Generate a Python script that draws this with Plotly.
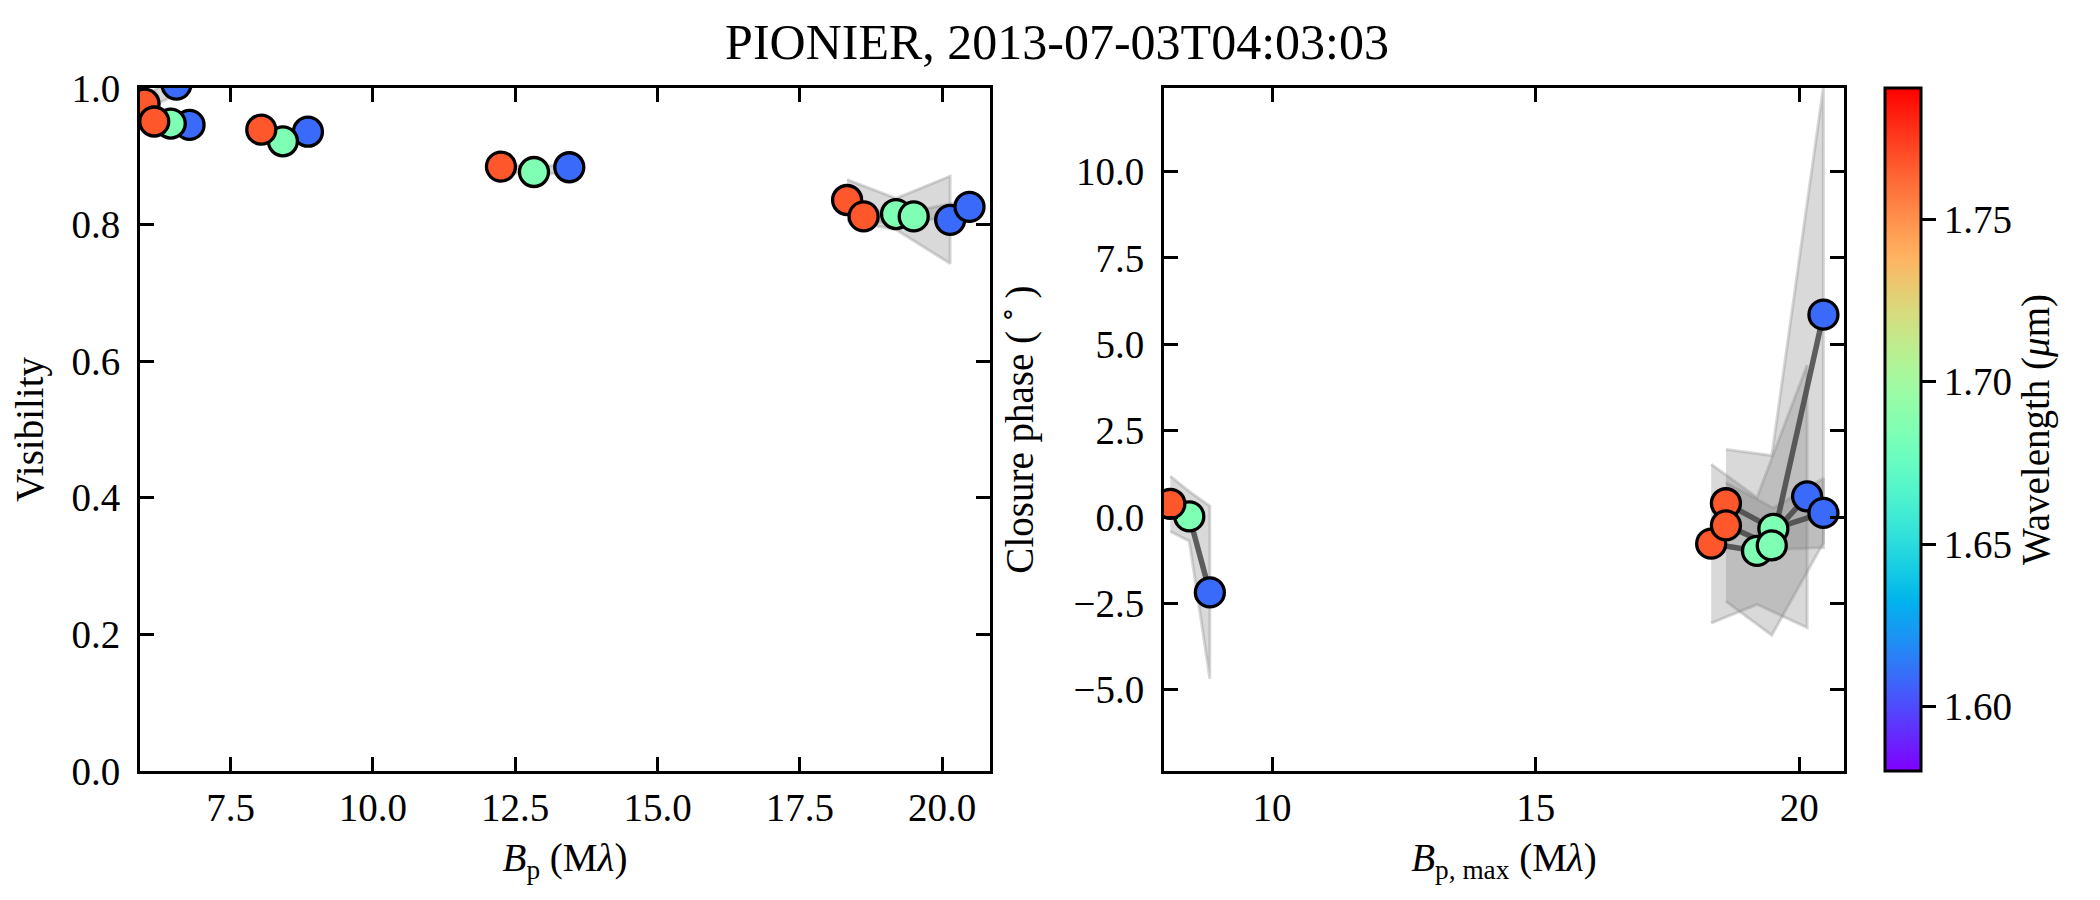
import math
import plotly.graph_objects as go

# ---------------- data ----------------
wavelengths = [1.609, 1.685, 1.767]          # blue, green, red channels (micron)

# Visibility panel: 6 baselines, projected baseline (Mlambda) per channel
# (None = channel not shown for that baseline)
bp_blue  = [6.55, 6.78, 8.86, 13.45, 20.14, 20.48]
bp_green = [None, 6.45, 8.42, 12.83, 19.19, 19.50]
bp_red   = [5.99, 6.16, 8.04, 12.25, 18.33, 18.62]
vis_blue  = [1.005, 0.946, 0.936, 0.884, 0.807, 0.826]
vis_green = [None, 0.948, 0.922, 0.877, 0.8155, 0.812]
vis_red   = [0.977, 0.951, 0.939, 0.885, 0.836, 0.812]
vis_err_blue  = [0.014, 0.006, 0.006, 0.006, 0.064, 0.010]
vis_err_green = [None, 0.006, 0.006, 0.006, 0.023, 0.008]
vis_err_red   = [0.010, 0.006, 0.006, 0.006, 0.030, 0.008]

# Closure phase panel: 4 triangles, longest projected baseline per channel
bpmax_blue  = [8.82, 20.15, 20.46, 20.46]
bpmax_green = [8.43, 19.20, 19.51, 19.48]
bpmax_red   = [8.07, 18.33, 18.61, 18.61]
cp_blue  = [-2.18, 0.60, 0.12, 5.86]
cp_green = [0.02, -0.98, -0.34, -0.82]
cp_red   = [0.385, -0.77, 0.40, -0.24]
cp_err_blue  = [2.50, 3.80, 1.00, 6.60]
cp_err_green = [0.72, 1.55, 0.60, 2.60]
cp_err_red   = [0.80, 2.30, 0.60, 2.20]

wl_min, wl_max = 1.5802, 1.7903
colorbar_ticks = [1.60, 1.65, 1.70, 1.75]

title_text = "PIONIER, 2013-07-03T04:03:03"

# ---------------- style ----------------
FONT = "Liberation Serif"
W, H = 2100, 900


def rainbow(t):
    r = min(1.0, abs(2 * t - 0.5))
    g = min(1.0, max(0.0, math.sin(math.pi * t)))
    b = min(1.0, max(0.0, math.cos(math.pi * t / 2)))
    return "rgb(%d,%d,%d)" % (round(r * 255), round(g * 255), round(b * 255))


colorscale = [[i / 20, rainbow(i / 20)] for i in range(21)]

BAND_FILL = "rgba(128,128,128,0.30)"
BAND_EDGE = "rgba(128,128,128,0.30)"
LINE_COL = "rgba(70,70,70,0.85)"

fig = go.Figure()

channels_vis = [(bp_red, vis_red, vis_err_red),
                (bp_green, vis_green, vis_err_green),
                (bp_blue, vis_blue, vis_err_blue)]
channels_cp = [(bpmax_red, cp_red, cp_err_red),
               (bpmax_green, cp_green, cp_err_green),
               (bpmax_blue, cp_blue, cp_err_blue)]


def add_panel(channels, xa, ya, with_lines):
    n = len(channels[0][0])
    # error bands
    for i in range(n):
        pts = [(c[0][i], c[1][i], c[2][i]) for c in channels if c[0][i] is not None]
        xs = [p[0] for p in pts]
        up = [p[1] + p[2] for p in pts]
        lo = [p[1] - p[2] for p in pts]
        fig.add_trace(go.Scatter(
            x=xs + xs[::-1], y=up + lo[::-1], mode="lines", fill="toself",
            fillcolor=BAND_FILL, line=dict(color=BAND_EDGE, width=3),
            xaxis=xa, yaxis=ya, showlegend=False, hoverinfo="skip"))
    # connecting lines
    if with_lines:
        for i in range(n):
            pts = [(c[0][i], c[1][i]) for c in channels if c[0][i] is not None]
            fig.add_trace(go.Scatter(
                x=[p[0] for p in pts], y=[p[1] for p in pts], mode="lines",
                line=dict(color=LINE_COL, width=5.5),
                xaxis=xa, yaxis=ya, showlegend=False, hoverinfo="skip"))
    # markers: blue first, red on top
    order = [(channels[2], wavelengths[0]), (channels[1], wavelengths[1]),
             (channels[0], wavelengths[2])]
    for (xs, ys, _), wl in order:
        fig.add_trace(go.Scatter(
            x=xs, y=ys, mode="markers",
            marker=dict(size=29, color=[wl] * len(xs), colorscale=colorscale,
                        cmin=wl_min, cmax=wl_max,
                        line=dict(color="black", width=3.3)),
            xaxis=xa, yaxis=ya, showlegend=False))


add_panel(channels_vis, "x", "y", with_lines=False)
add_panel(channels_cp, "x2", "y2", with_lines=True)

# colorbar carrier
fig.add_trace(go.Scatter(
    x=[None], y=[None], mode="markers", xaxis="x2", yaxis="y2", showlegend=False,
    marker=dict(color=[wl_min], colorscale=colorscale, cmin=wl_min, cmax=wl_max,
                showscale=True,
                colorbar=dict(
                    x=1877 / W, xanchor="left", xpad=0, ypad=0,
                    y=(0.1522 + 0.9111) / 2, yanchor="middle",
                    len=0.9111 - 0.1522, lenmode="fraction",
                    thickness=36, thicknessmode="pixels",
                    outlinewidth=3, outlinecolor="black",
                    ticks="outside", ticklen=14, tickwidth=3, tickcolor="black",
                    tickvals=colorbar_ticks, tickformat=".2f",
                    tickfont=dict(family=FONT, size=39, color="black"),
                    title=dict(text="Wavelength (<i>μ</i>m)", side="right",
                               font=dict(family=FONT, size=39, color="black")),
                ))))

axis_common = dict(
    showline=True, linecolor="black", linewidth=3, mirror="ticks",
    ticks="inside", ticklen=14, tickwidth=3, tickcolor="black",
    showgrid=False, zeroline=False, automargin=False,
    tickfont=dict(family=FONT, size=39, color="black"),
)

y_dom = [0.1522, 0.9111]
fig.update_layout(
    width=W, height=H, margin=dict(l=0, r=0, t=0, b=0, autoexpand=False),
    paper_bgcolor="white", plot_bgcolor="white",
    font=dict(family=FONT, color="black"),
    title=dict(text=title_text, x=1049 / W, xanchor="center",
               y=1 - 33 / H, yanchor="middle", xref="container", yref="container",
               font=dict(family=FONT, size=50, color="black")),
    xaxis=dict(domain=[132 / W, 982 / W], range=[5.91, 20.84],
               tickvals=[7.5, 10.0, 12.5, 15.0, 17.5, 20.0], tickformat=".1f",
               title=dict(text="<i>B</i><sub>p</sub> (M<i>λ</i>)", standoff=16,
                          font=dict(family=FONT, size=39)),
               anchor="y", **axis_common),
    yaxis=dict(domain=y_dom, range=[0, 1], ticklabelstandoff=9,
               tickvals=[0.0, 0.2, 0.4, 0.6, 0.8, 1.0], tickformat=".1f",
               title=dict(text="Visibility", standoff=18,
                          font=dict(family=FONT, size=39)),
               anchor="x", **axis_common),
    xaxis2=dict(domain=[1156 / W, 1836 / W], range=[7.95, 20.85],
                tickvals=[10, 15, 20], tickformat="d",
                title=dict(text="<i>B</i><sub>p, max</sub> (M<i>λ</i>)", standoff=16,
                           font=dict(family=FONT, size=39)),
                anchor="y2", **axis_common),
    yaxis2=dict(domain=y_dom, range=[-7.35, 12.42], ticklabelstandoff=9,
                tickvals=[-5.0, -2.5, 0.0, 2.5, 5.0, 7.5, 10.0], tickformat=".1f",
                title=dict(text="Closure phase (\u2009<sup>∘</sup>\u2009)", standoff=28,
                           font=dict(family=FONT, size=39)),
                anchor="x2", **axis_common),
)

fig.write_html("out.html")
